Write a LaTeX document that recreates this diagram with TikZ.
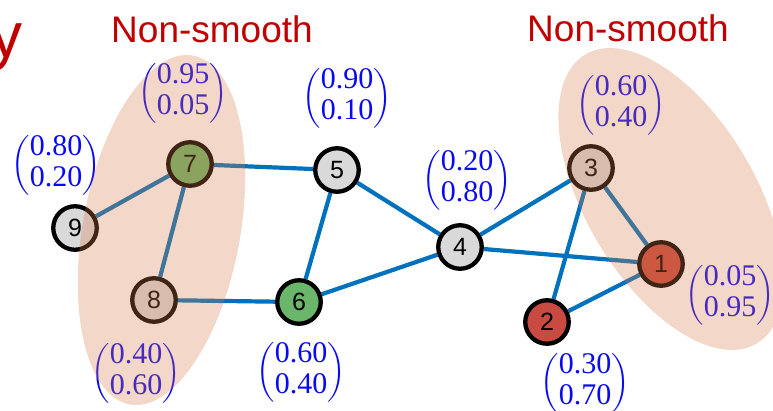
\documentclass[tikz,border=0pt]{standalone}
\usepackage{fix-cm}
\usepackage{amsmath}
\usepackage{fontspec}
\newfontfamily\arialfont{Liberation Sans}
\newfontfamily\vecfont{Liberation Serif}
\definecolor{edgeblue}{RGB}{0,114,189}
\definecolor{nodegray}{RGB}{217,217,217}
\definecolor{nodegreen}{RGB}{106,182,106}
\definecolor{nodered}{RGB}{200,74,64}
\definecolor{titlered}{RGB}{192,0,0}
\definecolor{vecblue}{RGB}{10,10,240}
\definecolor{blob}{RGB}{215,122,72}
\pgfdeclarelayer{edgelayer}
\pgfdeclarelayer{blobs}
\pgfsetlayers{edgelayer,main,blobs}
\newcommand{\vecpair}[2]{$\begin{pmatrix}\hbox{\vecfont #1}\\\hbox{\vecfont #2}\end{pmatrix}$}
\tikzset{
  vtx/.style={circle, draw=black, line width=4.3pt, minimum size=43.5pt, inner sep=0pt,
    font=\arialfont\fontsize{25}{25}\selectfont},
  link/.style={draw=edgeblue, line width=4.2pt},
  vec/.style={text=vecblue, inner sep=0pt, font=\fontsize{30}{31}\selectfont},
  title/.style={text=titlered, inner sep=0pt, font=\arialfont\fontsize{37}{40}\selectfont},
  bigy/.style={text=titlered, inner sep=0pt, font=\arialfont\fontsize{64}{64}\selectfont},
  blobfill/.style={fill=blob, fill opacity=0.3},
}
\begin{document}
\begin{tikzpicture}[x=1pt,y=-1pt]
\useasboundingbox (0,0) rectangle (773,410);
% vertices
\node[vtx, fill=nodered]   (n1) at (661,264) {1};
\node[vtx, fill=nodered]   (n2) at (547,322) {2};
\node[vtx, fill=nodegray]  (n3) at (591,168) {3};
\node[vtx, fill=nodegray]  (n4) at (460,247) {4};
\node[vtx, fill=nodegray]  (n5) at (337,170) {5};
\node[vtx, fill=nodegreen] (n6) at (299,302) {6};
\node[vtx, fill=nodegreen] (n7) at (190,164) {7};
\node[vtx, fill=nodegray]  (n8) at (154,300) {8};
\node[vtx, fill=nodegray]  (n9) at (75,228) {9};
% vectors
\node[vec] (v1) at (730,295) {\vecpair{0.05}{0.95}};
\node[vec] (v2) at (585,383) {\vecpair{0.30}{0.70}};
\node[vec] (v3) at (621,105) {\vecpair{0.60}{0.40}};
\node[vec] (v4) at (467,180) {\vecpair{0.20}{0.80}};
\node[vec] (v5) at (347,98)  {\vecpair{0.90}{0.10}};
\node[vec] (v6) at (301,372) {\vecpair{0.60}{0.40}};
\node[vec] (v7) at (183,93)  {\vecpair{0.95}{0.05}};
\node[vec] (v8) at (136,373) {\vecpair{0.40}{0.60}};
\node[vec] (v9) at (56,165)  {\vecpair{0.80}{0.20}};
% titles
\node[title, anchor=base] (ns1) at (212,42) {Non-smooth};
\node[title, anchor=base] (ns2) at (628,41) {Non-smooth};
\node[bigy, anchor=base east] (yfrag) at (23,57) {y};
% edges
\begin{pgfonlayer}{edgelayer}
\draw[link] (n9) -- (n7);
\draw[link] (n7) -- (n8);
\draw[link] (n7) -- (n5);
\draw[link] (n8) -- (n6);
\draw[link] (n5) -- (n6);
\draw[link] (n5) -- (n4);
\draw[link] (n6) -- (n4);
\draw[link] (n4) -- (n3);
\draw[link] (n4) -- (n1);
\draw[link] (n3) -- (n1);
\draw[link] (n3) -- (n2);
\draw[link] (n2) -- (n1);
\end{pgfonlayer}
% translucent regions
\begin{pgfonlayer}{blobs}
\begin{scope}
\clip (0,0) rectangle (773,410);
\fill[blobfill, shift={(161.5,230)}, rotate=-10.3] (0,0) ellipse [x radius=78.7, y radius=177.3];
\fill[blobfill, shift={(671,199)}, rotate=-59.4] (0,0) ellipse [x radius=168, y radius=85];
\end{scope}
\end{pgfonlayer}
\end{tikzpicture}
\end{document}
